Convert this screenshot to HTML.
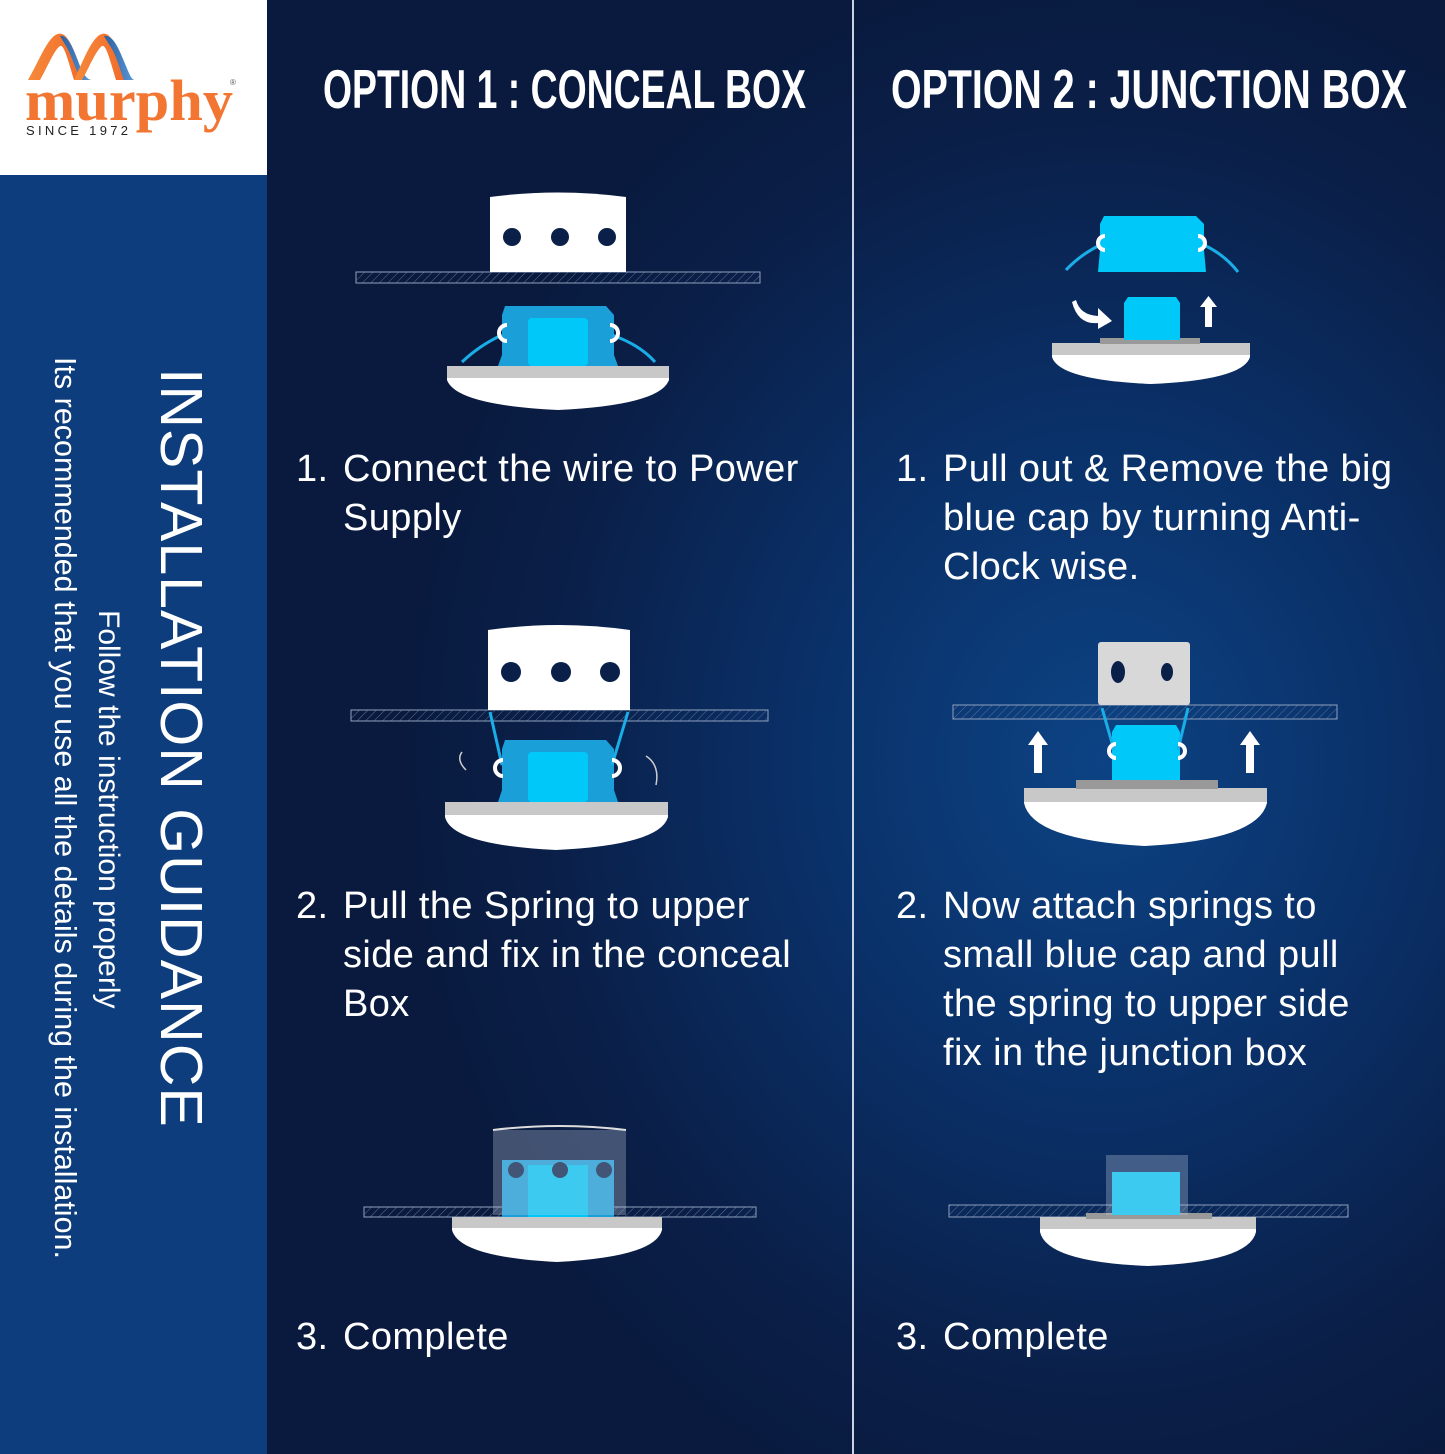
<!DOCTYPE html>
<html><head><meta charset="utf-8"><style>
*{margin:0;padding:0;box-sizing:border-box}
body{width:1445px;height:1454px;overflow:hidden;position:relative;font-family:"Liberation Sans",sans-serif;
background:radial-gradient(ellipse 700px 800px at 1100px 760px,#0c4384 0%,#0a2f66 45%,#0a1f48 80%,#091a3e 100%);}
.left{position:absolute;left:0;top:0;width:267px;height:1454px;background:#0d3d7c}
.logo{position:absolute;left:0;top:0;width:267px;height:175px;background:#fff}
.div{position:absolute;left:852px;top:0;width:2px;height:1454px;background:#c9d3e3}
.t{position:absolute;color:#fff;font-size:38px;line-height:49px;white-space:nowrap;letter-spacing:0.4px}
.t span{position:absolute;left:0}
.t div{padding-left:47px}
.v{position:absolute;color:#fff;white-space:nowrap;transform:rotate(90deg);transform-origin:left top}
</style></head><body>
<div class="left"></div>
<div class="logo">
<svg width="267" height="175" style="position:absolute;left:0;top:0">
<defs><linearGradient id="o" x1="0" x2="1"><stop offset="0" stop-color="#f58a3a"/><stop offset="1" stop-color="#f26a2a"/></linearGradient>
<linearGradient id="b" x1="0" x2="1"><stop offset="0" stop-color="#2d5fa0"/><stop offset="1" stop-color="#5a9ad6"/></linearGradient></defs>
<path d="M28 80 C40 60,50 30,62 34 C70 36,78 60,84 80 L74 80 C68 60,64 44,60 46 C54 50,46 70,40 80 Z" fill="url(#o)"/>
<path d="M60 36 C68 34,74 50,80 66 C84 76,88 80,92 80 L82 80 C76 72,72 56,66 46 Z" fill="url(#b)"/>
<path d="M74 80 C84 60,94 30,106 34 C114 36,120 60,126 80 L116 80 C110 60,106 44,102 46 C96 50,88 70,82 80 Z" fill="url(#o)"/>
<path d="M104 36 C114 34,120 52,126 66 C130 76,132 80,135 80 L124 80 C120 70,116 54,110 46 Z" fill="url(#b)"/>
<text x="25" y="120" font-family="Liberation Serif,serif" font-size="58" fill="#f37532" font-weight="bold" textLength="208" lengthAdjust="spacingAndGlyphs">murphy</text>
<text x="230" y="85" font-size="8" fill="#555">®</text>
<text x="26" y="135" font-size="13" fill="#222" textLength="102" lengthAdjust="spacing">SINCE 1972</text>
</svg></div>
<div class="div"></div>

<div class="v" style="left:215px;top:368px;font-size:59px;letter-spacing:1px">INSTALLATION GUIDANCE</div>
<div class="v" style="left:125px;top:610px;font-size:30px">Follow the instruction properly</div>
<div class="v" style="left:82px;top:357px;font-size:30.5px">Its recommended that you use all the details during the installation.</div>

<svg width="1445" height="130" style="position:absolute;left:0;top:0">
<text x="323" y="108" font-size="55" font-weight="bold" fill="#fff" textLength="483" lengthAdjust="spacingAndGlyphs">OPTION 1 : CONCEAL BOX</text>
<text x="891" y="108" font-size="55" font-weight="bold" fill="#fff" textLength="516" lengthAdjust="spacingAndGlyphs">OPTION 2  : JUNCTION BOX</text>
</svg>

<div class="t" style="left:296px;top:445px"><span>1.</span><div>Connect the wire to Power<br>Supply</div></div>
<div class="t" style="left:296px;top:882px"><span>2.</span><div>Pull the Spring to upper<br>side and fix in the conceal<br>Box</div></div>
<div class="t" style="left:296px;top:1313px"><span>3.</span><div>Complete</div></div>
<div class="t" style="left:896px;top:445px"><span>1.</span><div>Pull out &amp; Remove the big<br>blue cap by turning Anti-<br>Clock wise.</div></div>
<div class="t" style="left:896px;top:882px"><span>2.</span><div>Now attach springs to<br>small blue cap and pull<br>the spring to upper side<br>fix in the junction box</div></div>
<div class="t" style="left:896px;top:1313px"><span>3.</span><div>Complete</div></div>

<svg width="1445" height="1454" style="position:absolute;left:0;top:0">
<defs>
<pattern id="hat" width="6" height="6" patternUnits="userSpaceOnUse" patternTransform="rotate(45)"><line x1="0" y1="0" x2="0" y2="6" stroke="#5a6f93" stroke-width="1"/></pattern>
</defs>
<g stroke="#8fa0bd" stroke-width="1">
<rect x="356" y="272" width="404" height="11" fill="url(#hat)"/>
<rect x="351" y="710" width="417" height="11" fill="url(#hat)"/>
<rect x="364" y="1207" width="392" height="10" fill="url(#hat)"/>
<rect x="953" y="705" width="384" height="14" fill="url(#hat)"/>
<rect x="949" y="1205" width="399" height="12" fill="url(#hat)"/>
</g>
<path d="M490 197 Q558 188 626 197 V272 H490Z" fill="#fff"/>
<g fill="#0a2048"><circle cx="512" cy="237" r="9"/><circle cx="560" cy="237" r="9"/><circle cx="607" cy="237" r="9"/></g>
<path d="M488 630 Q559 620 630 630 V710 H488Z" fill="#fff"/>
<g fill="#0a2048"><circle cx="511" cy="672" r="10"/><circle cx="561" cy="672" r="10"/><circle cx="610" cy="672" r="10"/></g>
<g>
<path d="M447 368 H669 V380 Q660 405 558 410 Q456 405 447 380Z" fill="#fff"/><rect x="447" y="366" width="222" height="12" fill="#c8c8c8"/>
<path d="M445 804 H668 V817 Q660 845 556 850 Q452 845 445 817Z" fill="#fff"/><rect x="445" y="802" width="223" height="13" fill="#c8c8c8"/>
<path d="M452 1219 H662 V1230 Q655 1257 557 1262 Q459 1257 452 1230Z" fill="#fff"/><rect x="452" y="1217" width="210" height="11" fill="#c8c8c8"/>
<path d="M1052 345 H1250 V357 Q1243 380 1151 384 Q1059 380 1052 357Z" fill="#fff"/><rect x="1052" y="343" width="198" height="12" fill="#c8c8c8"/><rect x="1100" y="338" width="100" height="6" fill="#999"/>
<path d="M1024 790 H1267 V803 Q1258 840 1145 846 Q1032 840 1024 803Z" fill="#fff"/><rect x="1024" y="788" width="243" height="14" fill="#c8c8c8"/><rect x="1076" y="780" width="142" height="9" fill="#999"/>
<path d="M1040 1220 H1256 V1232 Q1249 1262 1148 1266 Q1047 1262 1040 1232Z" fill="#fff"/><rect x="1040" y="1217" width="216" height="12" fill="#c8c8c8"/><rect x="1086" y="1213" width="126" height="6" fill="#999"/>
</g>
<path d="M505 306 H606 L614 315 V355 L618 366 H498 L502 355 V315Z" fill="#1a9fd8"/><rect x="528" y="318" width="60" height="48" rx="4" fill="#00c8f8"/>
<path d="M505 740 H606 L614 749 V790 L618 802 H498 L502 790 V749Z" fill="#1a9fd8"/><rect x="528" y="752" width="60" height="50" rx="4" fill="#00c8f8"/>
<path d="M1104 216 H1196 L1204 224 V250 L1206 272 H1098 L1100 250 V224Z" fill="#00c8f8"/>
<path d="M1128 297 H1176 L1180 303 V340 H1124 V303Z" fill="#00c8f8"/>
<path d="M1116 725 H1176 L1180 732 V780 H1112 V732Z" fill="#00c8f8"/>
<g fill="none" stroke-width="3">
<path d="M462 362 Q480 345 502 335" stroke="#1aaee8"/><path d="M655 362 Q640 345 612 335" stroke="#1aaee8"/>
<path d="M1066 270 Q1080 255 1100 245" stroke="#1aaee8"/><path d="M1238 272 Q1225 255 1204 245" stroke="#1aaee8"/>
<path d="M490 712 L502 765" stroke="#1aaee8"/><path d="M628 712 L612 765" stroke="#1aaee8"/>
<path d="M1102 708 L1114 750" stroke="#1aaee8"/><path d="M1188 708 L1178 750" stroke="#1aaee8"/>
</g>
<g fill="none" stroke="#fff" stroke-width="4">
<path d="M507 325 a8 8 0 0 0 0 16"/><path d="M610 325 a8 8 0 0 1 0 16"/>
<path d="M1105 236 a7 7 0 0 0 0 14"/><path d="M1198 236 a7 7 0 0 1 0 14"/>
<path d="M503 760 a8 8 0 0 0 0 16"/><path d="M612 760 a8 8 0 0 1 0 16"/>
<path d="M1116 744 a7 7 0 0 0 0 14"/><path d="M1178 744 a7 7 0 0 1 0 14"/>
</g>
<g fill="none" stroke="#ccc" stroke-width="1.5"><path d="M466 770 Q456 760 462 752"/><path d="M656 785 Q660 765 646 756"/></g>
<rect x="1098" y="642" width="92" height="63" rx="3" fill="#d8d8d8"/>
<ellipse cx="1118" cy="672" rx="7" ry="11" fill="#0a2048"/><ellipse cx="1167" cy="672" rx="6" ry="9" fill="#0a2048"/>
<rect x="502" y="1160" width="112" height="57" fill="#1a9fd8"/>
<rect x="528" y="1165" width="60" height="52" fill="#00c8f8"/>
<circle cx="560" cy="1170" r="8" fill="#0a2048"/><circle cx="516" cy="1170" r="8" fill="#0a2048"/><circle cx="604" cy="1170" r="8" fill="#0a2048"/>
<rect x="493" y="1130" width="133" height="85" fill="#c8d2e2" opacity="0.3"/>
<path d="M493 1130 Q560 1122 626 1130" stroke="#ddd" fill="none" stroke-width="2"/>
<rect x="1112" y="1172" width="68" height="43" fill="#00c8f8"/>
<rect x="1106" y="1155" width="82" height="60" fill="#c8d2e2" opacity="0.3"/>
<g fill="#fff">
<path d="M1205 327 h7 v-20 h5 l-8.5 -11 l-8.5 11 h5z"/>
<path d="M1034 773 h8 v-28 h6 l-10 -14 l-10 14 h6z"/>
<path d="M1246 773 h8 v-28 h6 l-10 -14 l-10 14 h6z"/>
<path d="M1076 300 Q1080 315 1098 316 v-8 l14 13 l-14 8 v-6 Q1078 325 1072 302z"/>
</g>
</svg>
</body></html>
